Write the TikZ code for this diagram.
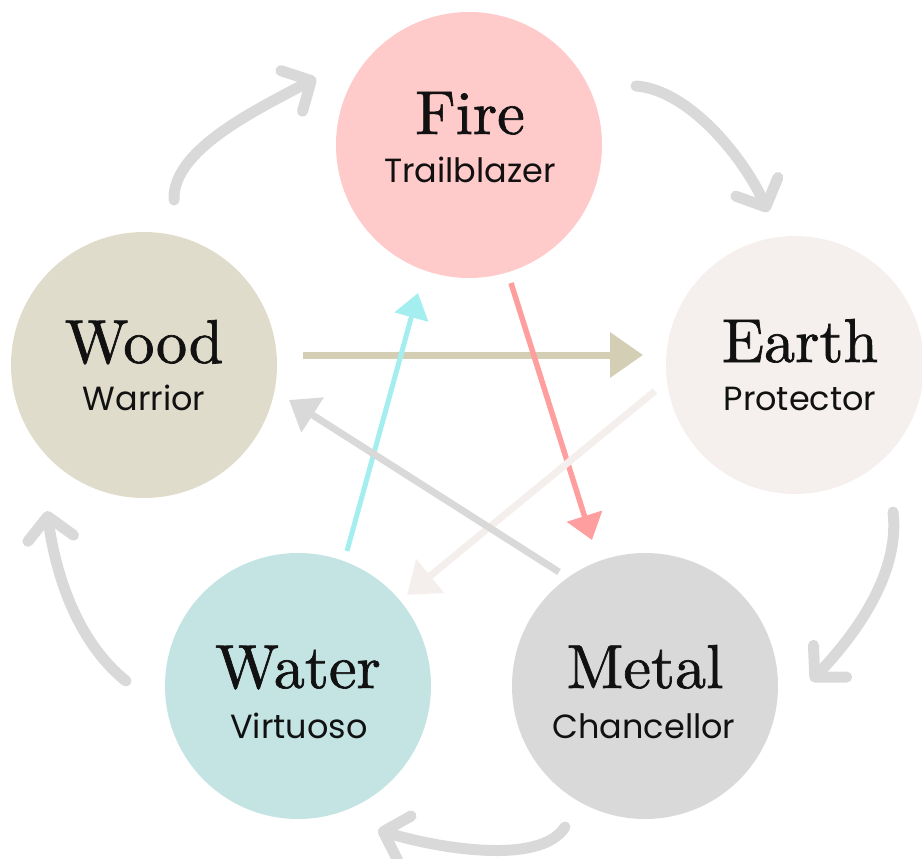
\documentclass[tikz,border=0pt]{standalone}
\usepackage{fontspec}
\newfontfamily\subfont{Poppins}
\newfontfamily\titlefont{lmroman10-regular}[Extension=.otf, FakeBold=1.1]
\usetikzlibrary{arrows.meta}
\definecolor{firec}{HTML}{FFCACA}
\definecolor{earthc}{HTML}{F5F0EE}
\definecolor{woodc}{HTML}{E0DCCB}
\definecolor{waterc}{HTML}{C4E4E4}
\definecolor{metalc}{HTML}{D9D9D9}
\definecolor{cyclec}{HTML}{D9D9D9}
\definecolor{tanc}{HTML}{D4CFB4}
\definecolor{cyanc}{HTML}{A5EEF0}
\definecolor{pinkc}{HTML}{FF9E9E}
\definecolor{lightc}{HTML}{F4EFEC}
\definecolor{ink}{HTML}{111111}
\tikzset{
  element/.style={circle, minimum size=266pt, inner sep=0pt, draw=none, fill=#1},
  titletext/.style={anchor=base, inner sep=0pt, text=ink, font=\titlefont\fontsize{62}{62}\selectfont},
  subtext/.style={anchor=base, inner sep=0pt, text=ink, font=\subfont\fontsize{33.5}{33.5}\selectfont},
  cycle arrow/.style={draw=cyclec, line width=11pt, line cap=round, line join=round,
    -{Straight Barb[length=22pt, width=46pt, round]}},
  control arrow/.style={draw=#1, -{Triangle[length=30pt, width=42pt]}},
}
\begin{document}
\begin{tikzpicture}[x=1pt, y=-1pt]
\useasboundingbox (0,0) rectangle (922,859);
% circles
\node[element=firec]  (fire)  at (469,145) {};
\node[element=earthc, minimum size=258pt] (earth) at (795,365) {};
\node[element=woodc]  (wood)  at (144,365) {};
\node[element=waterc] (water) at (298,686) {};
\node[element=metalc] (metal) at (645,686) {};
% texts
\node[titletext] (firet)  at (470,134) {Fire};
\node[subtext]   (fires)  at (470,182) {Trailblazer};
\node[titletext] (eartht) at (800,362) {Earth};
\node[subtext]   (earths) at (800,410) {Protector};
\node[titletext] (woodt)  at (144,363) {Wood};
\node[subtext]   (woods)  at (144,410) {Warrior};
\node[titletext] (watert) at (298,688) {Water};
\node[subtext]   (waters) at (299,738) {Virtuoso};
\node[titletext] (metalt) at (645,688) {Metal};
\node[subtext]   (metals) at (644,738) {Chancellor};
% connector end points
\coordinate (wf1) at (174,200);  \coordinate (wf2) at (316,78);
\coordinate (fe1) at (636,86);   \coordinate (fe2) at (768,212);
\coordinate (em1) at (893,512);  \coordinate (em2) at (811,681);
\coordinate (mw1) at (565,827);  \coordinate (mw2) at (378,830);
\coordinate (ww1) at (126,681);  \coordinate (ww2) at (47,511);
\coordinate (we1) at (303,355);  \coordinate (we2) at (643,355);
\coordinate (af1) at (347,551);  \coordinate (af2) at (418,293);
\coordinate (fm1) at (511,283);  \coordinate (fm2) at (592,540);
\coordinate (ea1) at (655,391);  \coordinate (ea2) at (407,595);
\coordinate (mo1) at (559,572);  \coordinate (mo2) at (289,400);
% generating cycle
\draw[cycle arrow] (wf1) .. controls (172,150) and (256,110) .. (wf2);
\draw[cycle arrow] (fe1) .. controls (690,90) and (745,160) .. (fe2);
\draw[cycle arrow] (em1) .. controls (900,570) and (860,630) .. (em2);
\draw[cycle arrow] (mw1) .. controls (540,866) and (437,848) .. (mw2);
\draw[cycle arrow] (ww1) .. controls (75,640) and (55,570) .. (ww2);
% controlling arrows
\draw[control arrow=tanc, line width=7pt, -{Triangle[length=33pt, width=44pt]}] (we1) -- (we2);
\draw[control arrow=cyanc, line width=5pt, -{Triangle[length=25pt, width=34pt]}] (af1) -- (af2);
\draw[control arrow=pinkc, line width=5.5pt, -{Triangle[length=25pt, width=36pt]}] (fm1) -- (fm2);
\draw[control arrow=lightc, line width=7pt] (ea1) -- (ea2);
\draw[control arrow=cyclec, line width=7pt, -{Triangle[length=28pt, width=40pt]}] (mo1) -- (mo2);
\end{tikzpicture}
\end{document}
